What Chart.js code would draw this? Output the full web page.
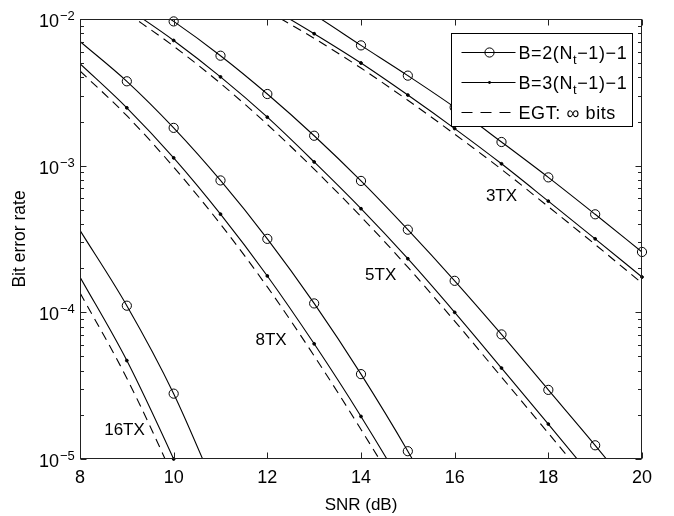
<!DOCTYPE html>
<html>
<head>
<meta charset="utf-8">
<script src="https://cdn.jsdelivr.net/npm/chart.js@4.4.1/dist/chart.umd.min.js"></script>
<style>
  html, body { margin: 0; padding: 0; background: #fff; }
</style>
</head>
<body>
<canvas id="berChart" width="674" height="516"></canvas>
<script>
const FONT = '"Liberation Sans", Arial, Helvetica, sans-serif';

// 3 transmit antennas
const snr3tx = [12, 13, 14, 15, 16, 17, 18, 19, 20];
const ber3txB2 = [1.66e-2, 1.07e-2, 6.61e-3, 4.11e-3, 2.50e-3, 1.45e-3, 8.32e-4, 4.66e-4, 2.58e-4];
const ber3txB3 = [1.23e-2, 7.94e-3, 5.01e-3, 3.03e-3, 1.79e-3, 1.03e-3, 5.73e-4, 3.17e-4, 1.74e-4];
const ber3txEgt = [1.135e-2, 7.38e-3, 4.63e-3, 2.79e-3, 1.64e-3, 9.44e-4, 5.25e-4, 2.90e-4, 1.58e-4];

// 5 transmit antennas
const snr5tx = [9, 10, 11, 12, 13, 14, 15, 16, 17, 18, 19, 20];
const ber5txB2 = [1.55e-2, 9.63e-3, 5.62e-3, 3.08e-3, 1.60e-3, 7.87e-4, 3.66e-4, 1.64e-4, 7.07e-5, 2.96e-5, 1.24e-5, 5.0e-6];
const ber5txB3 = [1.19e-2, 7.14e-3, 4.03e-3, 2.14e-3, 1.06e-3, 5.09e-4, 2.32e-4, 1.00e-4, 4.17e-5, 1.73e-5, 7.1e-6, 2.9e-6];
const ber5txEgt = [1.10e-2, 6.52e-3, 3.64e-3, 1.91e-3, 9.46e-4, 4.49e-4, 2.03e-4, 8.71e-5, 3.62e-5, 1.50e-5, 6.2e-6, 2.5e-6];

// 8 transmit antennas
const snr8tx = [8, 9, 10, 11, 12, 13, 14, 15, 16];
const ber8txB2 = [7.03e-3, 3.76e-3, 1.81e-3, 7.93e-4, 3.17e-4, 1.15e-4, 3.79e-5, 1.13e-5, 3.0e-6];
const ber8txB3 = [4.96e-3, 2.48e-3, 1.13e-3, 4.67e-4, 1.77e-4, 6.10e-5, 1.95e-5, 5.7e-6, 1.5e-6];
const ber8txEgt = [4.42e-3, 2.19e-3, 9.77e-4, 3.99e-4, 1.49e-4, 5.05e-5, 1.59e-5, 4.7e-6, 1.2e-6];

// 16 transmit antennas
const snr16tx = [8, 9, 10, 11];
const ber16txB2 = [3.62e-4, 1.11e-4, 2.79e-5, 5.2e-6];
const ber16txB3 = [1.74e-4, 4.69e-5, 1.00e-5, 1.9e-6];
const ber16txEgt = [1.36e-4, 3.55e-5, 7.4e-6, 1.3e-6];

// axes
const xTicks = [8, 10, 12, 14, 16, 18, 20];
const yDecades = [-2, -3, -4, -5];

// curve labels and where they sit (SNR, BER)
const groupNames = ['3TX', '5TX', '8TX', '16TX'];
const groupAnchorSnr = [17.0, 14.42, 12.08, 8.95];
const groupAnchorBer = [6.2e-4, 1.8e-4, 6.4e-5, 1.56e-5];

const legendNames = ['B=2(N|t|\u22121)\u22121', 'B=3(N|t|\u22121)\u22121', 'EGT: \u221e bits'];

function toPoints(xs, ys) {
    return xs.map((x, i) => ({ x: x, y: ys[i] }));
}

function curve(xs, ys, dashed) {
    return {
        data: toPoints(xs, ys),
        borderColor: '#000',
        borderWidth: 1.1,
        borderDash: dashed ? [9, 6] : [],
        pointRadius: 0,
        pointHoverRadius: 0,
        fill: false,
        cubicInterpolationMode: 'monotone'
    };
}

function inRange(p) {
    return p && p.x > 8 && p.y <= 1.0e-2 && p.y >= 0.99e-5;
}

function markers(xs, ys, open) {
    const r = open ? 4.6 : 1.4;
    return {
        data: toPoints(xs, ys),
        showLine: false,
        clip: false,
        pointStyle: 'circle',
        pointRadius: ctx => inRange(ctx.raw) ? r : 0,
        pointHoverRadius: 0,
        pointBackgroundColor: open ? 'rgba(0,0,0,0)' : '#000',
        pointBorderColor: '#000',
        pointBorderWidth: 1
    };
}

const groups = [
    [snr3tx, ber3txB2, ber3txB3, ber3txEgt],
    [snr5tx, ber5txB2, ber5txB3, ber5txEgt],
    [snr8tx, ber8txB2, ber8txB3, ber8txEgt],
    [snr16tx, ber16txB2, ber16txB3, ber16txEgt]
];

let datasets = [];
groups.forEach(([s, b2, b3, egt]) => {
    datasets.push(curve(s, egt, true));
    datasets.push(curve(s, b3, false));
    datasets.push(curve(s, b2, false));
    datasets.push(markers(s, b3, false));
    datasets.push(markers(s, b2, true));
});

// text with a "|sub|" part drawn as subscript
function drawRichText(ctx, text, x, y) {
    const parts = text.split('|');
    let cx = x;
    ctx.letterSpacing = '0.6px';
    parts.forEach((p, i) => {
        if (i % 2 === 1) {
            ctx.font = '13px ' + FONT;
            ctx.fillText(p, cx, y + 5);
        } else {
            ctx.font = '18px ' + FONT;
            ctx.fillText(p, cx, y);
        }
        cx += ctx.measureText(p).width;
    });
    ctx.letterSpacing = '0px';
}

const matlabAxes = {
    id: 'matlabAxes',
    afterDatasetsDraw(chart) {
        const { ctx, chartArea: a, scales: { x, y } } = chart;
        ctx.save();
        ctx.fillStyle = '#000';
        ctx.strokeStyle = '#000';

        // curve group labels
        ctx.font = '17px ' + FONT;
        ctx.textAlign = 'center';
        ctx.textBaseline = 'middle';
        groupNames.forEach((name, i) => {
            ctx.fillText(name, x.getPixelForValue(groupAnchorSnr[i]), y.getPixelForValue(groupAnchorBer[i]));
        });

        // legend box
        const lx = 451.5, ly = 33.5, lw = 181, lh = 93;
        ctx.fillStyle = '#fff';
        ctx.fillRect(lx, ly, lw, lh);
        ctx.lineWidth = 1;
        ctx.strokeRect(lx, ly, lw, lh);
        ctx.fillStyle = '#000';
        ctx.textAlign = 'left';
        ctx.textBaseline = 'alphabetic';
        legendNames.forEach((name, i) => {
            const ry = Math.round(ly + 18 + i * 30) + 0.5;
            ctx.beginPath();
            ctx.setLineDash(i === 2 ? [11, 8] : []);
            ctx.moveTo(lx + 10, ry);
            ctx.lineTo(lx + 64, ry);
            ctx.stroke();
            ctx.setLineDash([]);
            if (i === 0) {
                ctx.beginPath();
                ctx.arc(lx + 38, ry, 4.6, 0, Math.PI * 2);
                ctx.stroke();
            } else if (i === 1) {
                ctx.beginPath();
                ctx.arc(lx + 38, ry, 1.4, 0, Math.PI * 2);
                ctx.fill();
            }
            drawRichText(ctx, name, lx + 67, ry + 6);
        });

        // box
        ctx.strokeStyle = '#222';
        ctx.lineWidth = 1;
        const L = Math.round(a.left) + 0.5, R = Math.round(a.right) - 0.5;
        const T = Math.round(a.top) + 0.5, B = Math.round(a.bottom) - 0.5;
        ctx.strokeRect(L, T, R - L, B - T);

        // inward ticks
        ctx.beginPath();
        xTicks.forEach(v => {
            const px = Math.round(x.getPixelForValue(v)) + 0.5;
            ctx.moveTo(px, B); ctx.lineTo(px, B - 6);
            ctx.moveTo(px, T); ctx.lineTo(px, T + 6);
        });
        yDecades.forEach(e => {
            for (let m = 1; m <= 9; m++) {
                const v = m * Math.pow(10, e - (m > 1 ? 1 : 0));
                if (v < 1e-5 || v > 1e-2) continue;
                const py = Math.round(y.getPixelForValue(v)) + 0.5;
                const len = m === 1 ? 6 : 3.5;
                ctx.moveTo(L, py); ctx.lineTo(L + len, py);
                ctx.moveTo(R, py); ctx.lineTo(R - len, py);
            }
        });
        ctx.stroke();

        // y tick labels 10^e
        ctx.fillStyle = '#000';
        yDecades.forEach(e => {
            const py = y.getPixelForValue(Math.pow(10, e));
            ctx.textAlign = 'right';
            ctx.font = '18px ' + FONT;
            ctx.fillText('10', 59, py + 8);
            ctx.textAlign = 'left';
            ctx.font = '13px ' + FONT;
            ctx.fillText('\u2212' + Math.abs(e), 60, py + 1);
        });
        ctx.restore();
    }
};

new Chart(document.getElementById('berChart'), {
    type: 'line',
    data: { datasets: datasets },
    options: {
        responsive: false,
        animation: false,
        layout: { padding: { top: 19, right: 32, left: 0, bottom: 0 } },
        plugins: {
            legend: { display: false },
            tooltip: { enabled: false }
        },
        scales: {
            x: {
                type: 'linear',
                min: 8,
                max: 20,
                afterFit: s => { s.height = 57; },
                afterBuildTicks: s => { s.ticks = xTicks.map(v => ({ value: v })); },
                grid: { display: false },
                border: { display: false },
                ticks: { color: '#000', padding: 0, font: { family: FONT, size: 18 } },
                title: {
                    display: true,
                    text: 'SNR (dB)',
                    color: '#000',
                    font: { family: FONT, size: 17 },
                    padding: { top: 0, bottom: 0 }
                }
            },
            y: {
                type: 'logarithmic',
                min: 1e-5,
                max: 1e-2,
                afterFit: s => { s.width = 80; },
                grid: { display: false },
                border: { display: false },
                ticks: { display: false },
                title: {
                    display: true,
                    text: 'Bit error rate',
                    color: '#000',
                    font: { family: FONT, size: 17.5 },
                    padding: { top: 10, bottom: 0 }
                }
            }
        }
    },
    plugins: [matlabAxes]
});
</script>
</body>
</html>
